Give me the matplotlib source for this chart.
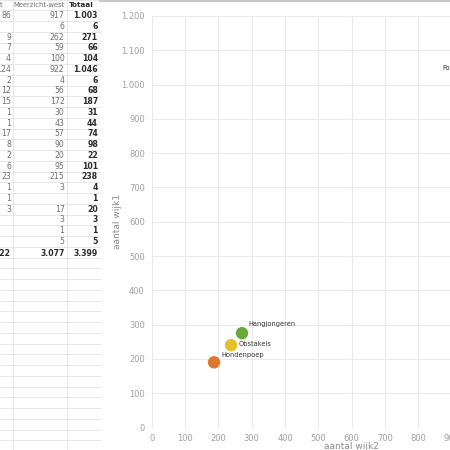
import matplotlib
matplotlib.use("Agg")
import matplotlib.pyplot as plt

# ---- table data ----
headers = ["t", "Meerzicht-west", "Totaal"]
col_oost = ["86", "", "9", "7", "4", "124", "2", "12", "15", "1", "1", "17", "8",
            "2", "6", "23", "1", "1", "3", "", "", ""]
col_west = ["917", "6", "262", "59", "100", "922", "4", "56", "172", "30", "43", "57", "90",
            "20", "95", "215", "3", "", "17", "3", "1", "5"]
col_tot = ["1.003", "6", "271", "66", "104", "1.046", "6", "68", "187", "31", "44", "74", "98",
           "22", "101", "238", "4", "1", "20", "3", "1", "5"]
totals = ["322", "3.077", "3.399"]

# ---- scatter data ----
names = ["Hangjongeren", "Obstakels", "Hondenpoep", "Fo"]
wijk2 = [271, 238, 187, 960]
wijk1 = [275, 240, 190, 1000]
colors = ["#6aa83a", "#e3c02e", "#e0782c", "#e0a02c"]
label_offsets = [(6, 9), (8, 1), (7, 7), (-29, 17)]

xticks = list(range(0, 1300, 100))
yticks = list(range(0, 1300, 100))


def fmt(v):
    return f"{v:,}".replace(",", ".")


fig = plt.figure(figsize=(4.5, 4.5), dpi=100)
fig.patch.set_facecolor("white")

# ---- table drawn in pixel coordinates ----
tab = fig.add_axes([0, 0, 1, 1])
tab.set_xlim(0, 450)
tab.set_ylim(450, 0)
tab.axis("off")

line_c = "#e4e4e4"
row0 = 15.7
dy = 10.75
y = row0 - dy / 2
ys = [y - dy]
while y < 455:
    ys.append(y)
    y += dy
for yy in ys:
    tab.plot([0, 100], [yy, yy], color=line_c, lw=0.6)
for xx in [12.5, 66.7]:
    tab.plot([xx, xx], [0, 450], color=line_c, lw=0.6)
# top border of chart panel
tab.plot([100, 450], [0.8, 0.8], color="#c8c8c8", lw=1.5)

tf = "DejaVu Sans"
tc = "#707070"
bc = "#2a2a2a"
fs = 5.6
tab.text(0, 5, headers[0], fontsize=4.9, color=tc, va="center", ha="left", family=tf)
tab.text(13.5, 5, headers[1], fontsize=4.9, color=tc, va="center", ha="left", family=tf)
tab.text(69, 5, headers[2], fontsize=5.2, color=bc, va="center", ha="left",
         fontweight="bold", family=tf)
for i in range(len(col_tot)):
    yy = row0 + i * dy
    tab.text(11, yy, col_oost[i], fontsize=fs, color=tc, va="center", ha="right", family=tf)
    tab.text(64.5, yy, col_west[i], fontsize=fs, color=tc, va="center", ha="right", family=tf)
    tab.text(98, yy, col_tot[i], fontsize=fs, color=bc, va="center", ha="right",
             fontweight="bold", family=tf)
yt = row0 + len(col_tot) * dy + 1
for xx, v in zip([11, 64.5, 98], totals):
    tab.text(xx, yt, v, fontsize=fs, color=bc, va="center", ha="right",
             fontweight="bold", family=tf)

# ---- scatter chart ----
left = 151.7 / 450
bottom = 1 - 427.5 / 450
width = 400 / 450
height = 411.5 / 450
ax = fig.add_axes([left, bottom, width, height])
ax.set_xlim(0, 1200)
ax.set_ylim(0, 1200)
ax.set_xticks(xticks)
ax.set_yticks(yticks)
ax.set_xticklabels([fmt(v) for v in xticks])
ax.set_yticklabels([fmt(v) for v in yticks])
ax.grid(True, color="#ebebeb", lw=0.8)
ax.set_axisbelow(True)
for s in ax.spines.values():
    s.set_visible(False)
ax.tick_params(length=0, labelsize=6, labelcolor="#a0a0a0", pad=5)
ax.set_xlabel("aantal wijk2", fontsize=6.5, color="#8a8a8a")
ax.xaxis.set_label_coords(200 / 400, -0.036)
ax.set_ylabel("aantal wijk1", fontsize=6.5, color="#8a8a8a")
ax.yaxis.set_label_coords(-0.075, (427.5 - 222) / 411.5)

ax.scatter(wijk2, wijk1, s=80, c=colors, edgecolors="none", zorder=3, clip_on=False)
for n, xv, yv, off in zip(names, wijk2, wijk1, label_offsets):
    ax.annotate(n, (xv, yv), xytext=off, textcoords="offset pixels", fontsize=4.8,
                color="#333333", ha="left", va="center")

fig.savefig("out.png", dpi=100)
